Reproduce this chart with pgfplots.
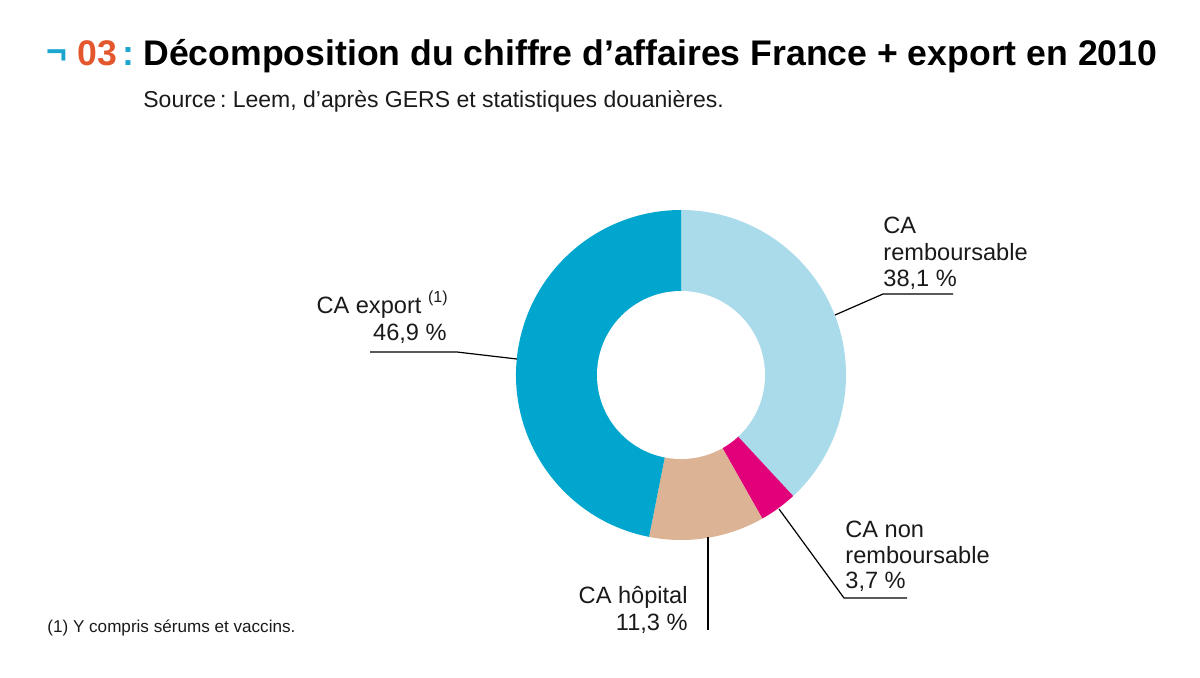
\documentclass[border=0pt]{standalone}
\usepackage{pgfplots}
\pgfplotsset{compat=1.18}
\usepackage{fontspec}
\setmainfont{Liberation Sans}
\frenchspacing
\definecolor{cRemb}{HTML}{A9DBEA}
\definecolor{cNon}{HTML}{E2007A}
\definecolor{cHop}{HTML}{DCB394}
\definecolor{cExp}{HTML}{00A6CD}
\definecolor{tOrange}{HTML}{E4572E}
\definecolor{tCyan}{HTML}{1BA6CF}
\definecolor{tGray}{HTML}{1A1A1A}
\begin{document}
\begin{tikzpicture}
\begin{axis}[
  scale only axis, width=600pt, height=338.5pt,
  xmin=0, xmax=1200, ymin=0, ymax=677, y dir=reverse,
  hide axis, clip=false]
\path (axis cs:0,0) rectangle (axis cs:1200,677);
% donut: values in percent, clockwise from top
\fill[cRemb] (axis cs:681,375) -- ++(90:82.5pt) arc[start angle=90, delta angle=-3.6*38.1, radius=82.5pt] -- cycle;
\fill[cNon] (axis cs:681,375) -- ++({90-3.6*38.1}:82.5pt) arc[start angle={90-3.6*38.1}, delta angle=-3.6*3.7, radius=82.5pt] -- cycle;
\fill[cHop] (axis cs:681,375) -- ++({90-3.6*41.8}:82.5pt) arc[start angle={90-3.6*41.8}, delta angle=-3.6*11.3, radius=82.5pt] -- cycle;
\fill[cExp] (axis cs:681,375) -- ++({90-3.6*53.1}:82.5pt) arc[start angle={90-3.6*53.1}, delta angle=-3.6*46.9, radius=82.5pt] -- cycle;
\fill[white] (axis cs:681,375) circle[radius=42pt];
% leader lines
\draw[line width=0.6pt] (axis cs:370,352) -- (axis cs:457,352) -- (axis cs:517,359);
\draw[line width=0.6pt] (axis cs:835,315) -- (axis cs:883,294) -- (axis cs:953,294);
\draw[line width=0.6pt] (axis cs:779,509) -- (axis cs:844,598) -- (axis cs:907,598);
\draw[line width=0.6pt] (axis cs:708,537) -- (axis cs:708,630);
% labels
\tikzset{lab/.style={inner sep=0pt, font=\fontsize{11.8}{13}\selectfont, text=tGray}}
\node[lab, anchor=base east] at (axis cs:448,313) {CA export \raisebox{0.45em}{\fontsize{8}{9}\selectfont(1)}};
\node[lab, anchor=base east] at (axis cs:447,340) {46,9 \%};
\node[lab, anchor=base west] at (axis cs:883,233) {CA};
\node[lab, anchor=base west] at (axis cs:883,260) {remboursable};
\node[lab, anchor=base west] at (axis cs:883,286) {38,1 \%};
\node[lab, anchor=base west] at (axis cs:845,537) {CA non};
\node[lab, anchor=base west] at (axis cs:845,563) {remboursable};
\node[lab, anchor=base west] at (axis cs:845,588) {3,7 \%};
\node[lab, anchor=base east] at (axis cs:688,603) {CA hôpital};
\node[lab, anchor=base east] at (axis cs:688,630) {11,3 \%};
% title
\tikzset{tit/.style={inner sep=0pt, font=\fontsize{17.8}{20}\selectfont\bfseries}}
\node[tit, anchor=base west, text=tCyan] at (axis cs:46,63) {¬};
\node[tit, anchor=base west, text=tOrange] at (axis cs:77,65) {03};
\node[tit, anchor=base west, text=tCyan] at (axis cs:122,65) {:};
\node[tit, anchor=base west] at (axis cs:143,65) {Décomposition du chiffre d’affaires France + export en 2010};
\node[inner sep=0pt, anchor=base west, font=\fontsize{11.5}{13}\selectfont, text=tGray] at (axis cs:143,107) {Source\,: Leem, d’après GERS et statistiques douanières.};
\node[inner sep=0pt, anchor=base west, font=\fontsize{8.55}{10}\selectfont, text=tGray] at (axis cs:47,632) {(1) Y compris sérums et vaccins.};
\end{axis}
\end{tikzpicture}
\end{document}
